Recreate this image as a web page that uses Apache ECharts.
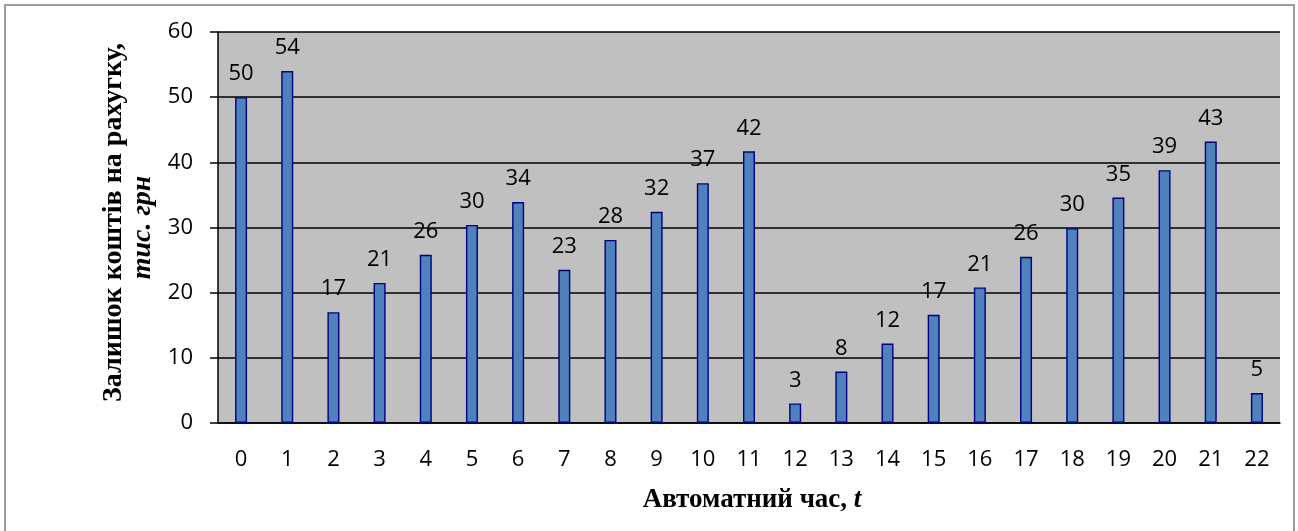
<!DOCTYPE html>
<html>
<head>
<meta charset="utf-8">
<script src="https://cdn.jsdelivr.net/npm/echarts@6/dist/echarts.min.js"></script>
<style>
html,body{margin:0;padding:0;background:#fff;}
#chart{width:1298px;height:531px;}
</style>
</head>
<body>
<div id="chart"></div>
<script>
const categories = ['0','1','2','3','4','5','6','7','8','9','10','11','12','13','14','15','16','17','18','19','20','21','22'];
const balances = [50.0,54.0,17.0,21.5,25.8,30.4,33.9,23.5,28.1,32.4,36.8,41.7,3.0,7.9,12.2,16.6,20.8,25.5,29.9,34.6,38.8,43.2,4.6];
const valueLabels = ['50','54','17','21','26','30','34','23','28','32','37','42','3','8','12','17','21','26','30','35','39','43','5'];
const yTitleLine1 = 'Залишок коштів на рахугку,';
const yTitleLine2 = 'тис. грн';
const xTitleMain = 'Автоматний час, ';
const xTitleVar = 't';

const chart = echarts.init(document.getElementById('chart'));
const labelFont = '"Open Sans", sans-serif';
const serif = '"Liberation Serif", "Times New Roman", serif';

chart.setOption({
  backgroundColor: '#ffffff',
  animation: false,
  graphic: [{
    type: 'rect',
    shape: {x: 5, y: 5, width: 1289, height: 560},
    style: {fill: 'none', stroke: '#9c9c9c', lineWidth: 2},
    silent: true
  }],
  grid: {left: 218, right: 18, top: 32, bottom: 108, show: true, backgroundColor: '#c0c0c0', borderWidth: 0},
  xAxis: {
    type: 'category',
    data: categories,
    axisLine: {lineStyle: {color: '#000', width: 1.5}},
    axisTick: {show: false},
    axisLabel: {color: '#000', fontSize: 22, fontFamily: labelFont, margin: 26, interval: 0},
    name: '{a|' + xTitleMain + '}{b|' + xTitleVar + '}',
    nameLocation: 'middle',
    nameGap: 64,
    nameTextStyle: {
      padding: [0, 0, 0, 6],
      rich: {
        a: {fontFamily: serif, fontWeight: 'bold', fontSize: 27, color: '#000'},
        b: {fontFamily: serif, fontWeight: 'bold', fontStyle: 'italic', fontSize: 27, color: '#000'}
      }
    }
  },
  yAxis: {
    type: 'value',
    min: 0, max: 60, interval: 10,
    axisLine: {show: true, lineStyle: {color: '#000', width: 1.5}},
    axisTick: {show: true, length: 8, lineStyle: {color: '#000', width: 1.5}},
    axisLabel: {color: '#000', fontSize: 22, fontFamily: labelFont, margin: 25},
    splitLine: {lineStyle: {color: '#000', width: 1.5}},
    name: '{a|' + yTitleLine1 + '}\n{b|' + yTitleLine2 + '}',
    nameLocation: 'middle',
    nameRotate: 90,
    nameGap: 56,
    nameTextStyle: {
      align: 'center',
      padding: [0, 0, 0, 0],
      rich: {
        a: {fontFamily: serif, fontWeight: 'bold', fontSize: 28, color: '#000', lineHeight: 29, align: 'center', padding: [0, 0, 0, 10]},
        b: {fontFamily: serif, fontWeight: 'bold', fontStyle: 'italic', fontSize: 28, color: '#000', lineHeight: 29, align: 'center'}
      }
    }
  },
  series: [{
    type: 'bar',
    data: balances,
    barWidth: 12,
    itemStyle: {color: '#4f81bd', borderColor: '#000080', borderWidth: 1.4},
    label: {
      show: true,
      position: 'top',
      distance: 12,
      color: '#000',
      fontSize: 22,
      fontFamily: labelFont,
      formatter: p => valueLabels[p.dataIndex]
    }
  }]
});
</script>
</body>
</html>
